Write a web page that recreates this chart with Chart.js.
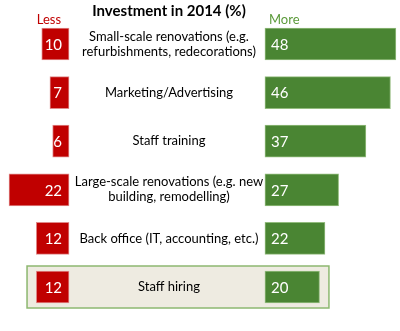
<!DOCTYPE html>
<html>
<head>
<meta charset="utf-8">
<script src="https://cdn.jsdelivr.net/npm/chart.js@4/dist/chart.umd.min.js"></script>
<style>
  html, body { margin: 0; padding: 0; background: #fff; }
  #wrap { width: 400px; height: 331px; position: relative; }
</style>
</head>
<body>
<div id="wrap"><canvas id="chart"></canvas></div>
<script>
// data
const categories = [
  ["Small-scale renovations (e.g.", "refurbishments, redecorations)"],
  "Marketing/Advertising",
  "Staff training",
  ["Large-scale renovations (e.g. new", "building, remodelling)"],
  "Back office (IT, accounting, etc.)",
  "Staff hiring"
]
const lessValues = [10, 7, 6, 22, 12, 12]
const moreValues = [48, 46, 37, 27, 22, 20]
const highlightIndex = 5

// gap (in value units) between the red and green bars, used for the label column
const GAP = 71.8
const RED = "#C00000"
const GREEN = "#4A8533"
const FONT = "Lato, 'Open Sans', sans-serif"

const lessBars = lessValues.map(v => [-v, 0])
const moreBars = moreValues.map(v => [GAP, GAP + v])

const overlay = {
  id: "overlay",
  beforeDatasetsDraw(chart) {
    const ctx = chart.ctx
    const x = chart.scales.x, y = chart.scales.y
    // highlighted row box
    const cy = y.getPixelForValue(highlightIndex)
    const left = x.getPixelForValue(0) - 42
    const right = x.getPixelForValue(GAP) + 64
    ctx.save()
    ctx.fillStyle = "#EEEBE1"
    ctx.strokeStyle = "#8DB870"
    ctx.lineWidth = 1.5
    ctx.fillRect(left, cy - 21, right - left, 42)
    ctx.strokeRect(left, cy - 21, right - left, 42)
    ctx.restore()
  },
  afterDatasetsDraw(chart) {
    const ctx = chart.ctx
    const x = chart.scales.x, y = chart.scales.y
    const x0 = x.getPixelForValue(0)
    const xg = x.getPixelForValue(GAP)
    const mid = (x0 + xg) / 2 + 2
    ctx.save()
    ctx.textBaseline = "middle"

    // title + Less / More
    ctx.fillStyle = "#000"
    ctx.font = "bold 15px " + FONT
    ctx.textAlign = "center"
    ctx.fillText("Investment in 2014 (%)", mid, 11)
    ctx.font = "13px " + FONT
    ctx.fillStyle = RED
    ctx.textAlign = "right"
    ctx.fillText("Less", x0 - 8, 20)
    ctx.fillStyle = "#5B9A3A"
    ctx.textAlign = "left"
    ctx.fillText("More", xg + 4, 20)

    // category labels in the middle column
    ctx.fillStyle = "#000"
    ctx.font = "13px " + FONT
    ctx.textAlign = "center"
    categories.forEach((c, i) => {
      const cy = y.getPixelForValue(i)
      const lines = Array.isArray(c) ? c : [c]
      lines.forEach((l, k) => {
        ctx.fillText(l, mid, cy + (k - (lines.length - 1) / 2) * 15)
      })
    })

    // values inside bars
    ctx.fillStyle = "#fff"
    ctx.font = "15px " + FONT
    chart.getDatasetMeta(0).data.forEach((bar, i) => {
      ctx.textAlign = "right"
      ctx.fillText(String(lessValues[i]), Math.max(bar.x, bar.base) - 7, bar.y + 1)
    })
    chart.getDatasetMeta(1).data.forEach((bar, i) => {
      ctx.textAlign = "left"
      ctx.fillText(String(moreValues[i]), Math.min(bar.x, bar.base) + 6, bar.y + 1)
    })
    ctx.restore()
  }
}

new Chart(document.getElementById("chart"), {
  type: "bar",
  data: {
    labels: categories,
    datasets: [{
      label: "Less",
      data: lessBars,
      backgroundColor: RED,
      borderColor: "#E08A8A",
      borderWidth: 1,
      borderSkipped: false,
      barThickness: 32,
      grouped: false
    }, {
      label: "More",
      data: moreBars,
      backgroundColor: GREEN,
      borderColor: "#93BC7E",
      borderWidth: 1,
      borderSkipped: false,
      barThickness: 32,
      grouped: false
    }]
  },
  options: {
    indexAxis: "y",
    responsive: true,
    maintainAspectRatio: false,
    animation: false,
    layout: { padding: { top: 19.7, bottom: 19.7, left: 0, right: 0 } },
    plugins: {
      legend: { display: false },
      tooltip: { enabled: false },
      title: { display: false }
    },
    scales: {
      x: { type: "linear", min: -25.3, max: 121.3, display: false },
      y: { type: "category", display: false, offset: true }
    }
  },
  plugins: [overlay]
})
</script>
</body>
</html>
